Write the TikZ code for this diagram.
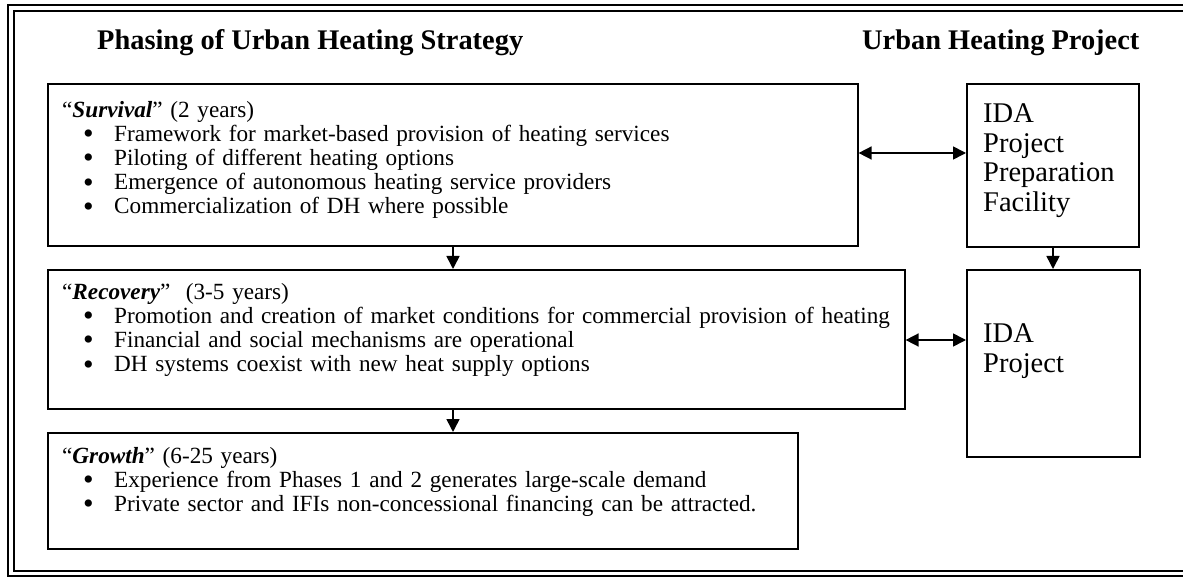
\documentclass[tikz,border=0pt]{standalone}
\usepackage{fontspec}
\setmainfont{Liberation Serif}
\usetikzlibrary{arrows.meta}
\newcommand\phasebullet[1]{\hspace*{21pt}\makebox[31pt][l]{\raisebox{-0.10em}{\scalebox{1.3}{•}}}#1}
\begin{document}
\begin{tikzpicture}[x=1pt,y=-1pt,
  framebox/.style={draw, line width=#1},
  phasebox/.style={draw, line width=1.6pt, rectangle, anchor=north west, inner sep=0pt},
  phasetext/.style={anchor=north west, inner sep=0pt, align=left, text width=850pt,
    font=\fontsize{23.2}{24.2}\selectfont},
  idatext/.style={anchor=north west, inner sep=0pt, align=left, text width=150pt,
    font=\fontsize{28.5}{29.6}\selectfont},
  heading/.style={anchor=base west, inner sep=0pt, font=\bfseries\fontsize{28.4}{30}\selectfont},
  flow/.style={line width=1.6pt, -{Triangle[width=13pt,length=13pt]}},
  link/.style={line width=1.6pt, {Triangle[width=13pt,length=13pt]}-{Triangle[width=13pt,length=13pt]}}]
\useasboundingbox (0,0) rectangle (1183,577);
\clip (0,0) rectangle (1183,577);
% double page frame
\draw[framebox=2.2pt] (8,5) rectangle (1190,576);
\draw[framebox=1.2pt] (14,11) rectangle (1184,571);

% headings
\node[heading] (lefthead) at (97,50) {Phasing of Urban Heating Strategy};
\node[heading] (righthead) at (862,50) {Urban Heating Project};

% phase boxes
\node[phasebox, minimum width=810pt, minimum height=162pt] (surv) at (47,83) {};
\node[phasebox, minimum width=857pt, minimum height=139pt] (rec) at (47,269) {};
\node[phasebox, minimum width=750pt, minimum height=116pt] (grow) at (47,432) {};

\node[phasetext] (survtext) at (62,100) {\strut“\textbf{\textit{Survival}}” (2 years)\\
\phasebullet{Framework for market-based provision of heating services}\\
\phasebullet{Piloting of different heating options}\\
\phasebullet{Emergence of autonomous heating service providers}\\
\phasebullet{Commercialization of DH where possible}};

\node[phasetext] (rectext) at (62,282) {\strut“\textbf{\textit{Recovery}}”~~(3-5 years)\\
\phasebullet{Promotion and creation of market conditions for commercial provision of heating}\\
\phasebullet{Financial and social mechanisms are operational}\\
\phasebullet{DH systems coexist with new heat supply options}};

\node[phasetext] (growtext) at (62,446) {\strut“\textbf{\textit{Growth}}” (6-25 years)\\
\phasebullet{Experience from Phases 1 and 2 generates large-scale demand}\\
\phasebullet{Private sector and IFIs non-concessional financing can be attracted.}};

% project boxes
\node[phasebox, minimum width=172pt, minimum height=163pt] (ppf) at (966,83) {};
\node[phasebox, minimum width=173pt, minimum height=187pt] (ida) at (966,269) {};
\node[idatext] (ppftext) at (983,101.5) {\strut IDA\\Project\\Preparation\\Facility};
\node[idatext] (idatextnode) at (983,321.5) {\strut IDA\\Project};

% connectors
\coordinate (flowcol) at (453,0);
\coordinate (projcol) at (1053,0);
\coordinate (linkone) at (0,153);
\coordinate (linktwo) at (0,340);
\draw[flow] (surv.south -| flowcol) -- (rec.north -| flowcol);
\draw[flow] (rec.south -| flowcol) -- (grow.north -| flowcol);
\draw[flow] (ppf.south -| projcol) -- (ida.north -| projcol);
\draw[link] (surv.east |- linkone) -- (ppf.west |- linkone);
\draw[link] (rec.east |- linktwo) -- (ida.west |- linktwo);
\end{tikzpicture}
\end{document}
